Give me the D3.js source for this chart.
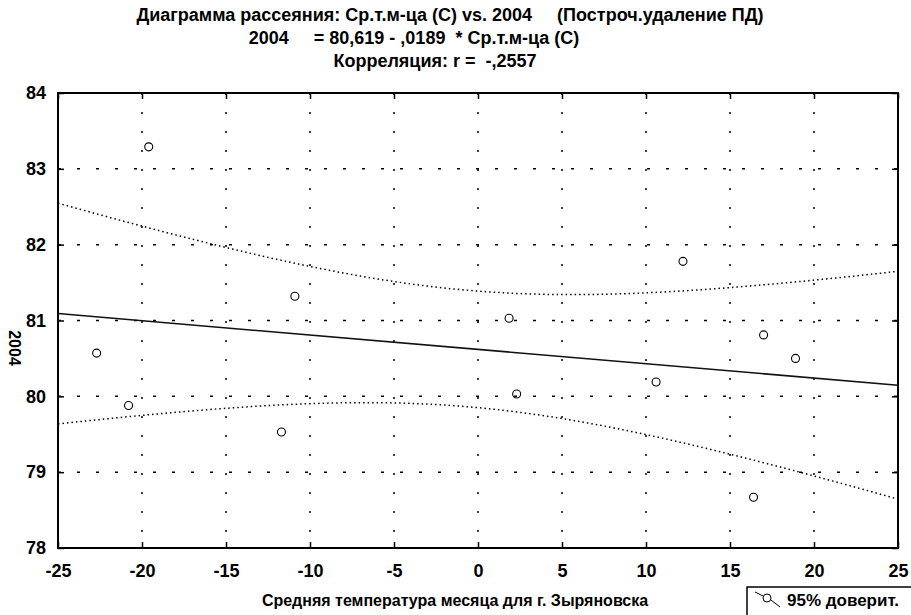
<!DOCTYPE html>
<html>
<head>
<meta charset="utf-8">
<script src="https://d3js.org/d3.v7.min.js"></script>
<style>
body { margin: 0; background: #fff; }
text { font-family: "Liberation Sans", Arial, sans-serif; fill: #000; }
</style>
</head>
<body>
<script>
// mean monthly temperature (x) vs 2004 value (y)
var temps  = [-19.6, -22.7, -20.8, -10.9, -11.7, 1.85, 2.3, 10.6, 12.2, 17.0, 18.9, 16.4];
var values = [83.29, 80.57, 79.88, 81.32, 79.53, 81.03, 80.03, 80.19, 81.78, 80.81, 80.50, 78.67];
var xTicks = [-25, -20, -15, -10, -5, 0, 5, 10, 15, 20, 25];
var yTicks = [78, 79, 80, 81, 82, 83, 84];
var intercept = 80.619, slope = -0.0189;
var tCrit = 2.228; // t(0.975, df = 10)

var titleLines = [
	"Диаграмма рассеяния: Ср.т.м-ца (С) vs. 2004     (Построч.удаление ПД)",
	"2004     = 80,619 - ,0189  * Ср.т.м-ца (С)",
	"Корреляция: r =  -,2557"
];

var width = 911, height = 615;
var pL = 58, pT = 93, pR = 898, pB = 548;

var svg = d3.select("body").append("svg")
	.attr("width", width)
	.attr("height", height);

var x = d3.scaleLinear().domain([-25, 25]).range([pL, pR]);
var y = d3.scaleLinear().domain([78, 84]).range([pB, pT]);
var plain = function(d) { return String(d); };

// title (lines are not quite centred in the original)
var titleX = [450, 414, 435];
svg.append("g").selectAll("text")
	.data(titleLines)
	.enter()
	.append("text")
		.attr("x", function(d, i) { return titleX[i]; })
		.attr("y", function(d, i) { return 21 + i * 23; })
		.attr("text-anchor", "middle")
		.attr("font-size", 18)
		.attr("font-weight", "bold")
		.style("white-space", "pre")
		.text(function(d) { return d; });

// grid
svg.append("g").selectAll("line")
	.data(xTicks.slice(1, -1))
	.enter()
	.append("line")
		.attr("x1", function(d) { return x(d); })
		.attr("x2", function(d) { return x(d); })
		.attr("y1", pT).attr("y2", pB)
		.attr("stroke", "#000")
		.attr("stroke-width", 1.5)
		.attr("stroke-dasharray", "2,17");
svg.append("g").selectAll("line")
	.data(yTicks.slice(1, -1))
	.enter()
	.append("line")
		.attr("x1", pL).attr("x2", pR)
		.attr("y1", function(d) { return y(d); })
		.attr("y2", function(d) { return y(d); })
		.attr("stroke", "#000")
		.attr("stroke-width", 1.5)
		.attr("stroke-dasharray", "3,16");

// confidence band from the data and the stated fit
var n = temps.length;
var xbar = d3.mean(temps);
var sxx = d3.sum(temps, function(d) { return (d - xbar) * (d - xbar); });
var sse = d3.sum(temps, function(d, i) {
	var r = values[i] - (intercept + slope * d);
	return r * r;
});
var s = Math.sqrt(sse / (n - 2));
function half(t) { return tCrit * s * Math.sqrt(1 / n + (t - xbar) * (t - xbar) / sxx); }
var xs = d3.range(-25, 25.01, 0.5);

var line = d3.line()
	.x(function(d) { return x(d[0]); })
	.y(function(d) { return y(d[1]); });

[1, -1].forEach(function(sign) {
	svg.append("path")
		.datum(xs.map(function(t) { return [t, intercept + slope * t + sign * half(t)]; }))
		.attr("d", line)
		.attr("fill", "none")
		.attr("stroke", "#000")
		.attr("stroke-width", 1.5)
		.attr("stroke-dasharray", "1.5,3");
});

// regression line
svg.append("path")
	.datum([[-25, intercept + slope * -25], [25, intercept + slope * 25]])
	.attr("d", line)
	.attr("fill", "none")
	.attr("stroke", "#111")
	.attr("stroke-width", 1.6);

// points
svg.append("g").selectAll("circle")
	.data(temps)
	.enter()
	.append("circle")
		.attr("cx", function(d) { return x(d); })
		.attr("cy", function(d, i) { return y(values[i]); })
		.attr("r", 4)
		.attr("fill", "none")
		.attr("stroke", "#000")
		.attr("stroke-width", 1.1);

// axes with inner ticks on all sides
svg.append("g")
	.attr("transform", "translate(0," + pB + ")")
	.call(d3.axisBottom(x).tickValues(xTicks).tickFormat(plain).tickSizeInner(-6).tickSizeOuter(0).tickPadding(16))
	.call(function(g) {
		g.select(".domain").remove();
		g.selectAll("line").attr("stroke-width", 1.5);
		g.selectAll("text").attr("font-size", 18).attr("font-weight", "bold").attr("font-family", "Liberation Sans, Arial, sans-serif");
	});
svg.append("g")
	.attr("transform", "translate(0," + pT + ")")
	.call(d3.axisTop(x).tickValues(xTicks).tickSizeInner(-6).tickSizeOuter(0).tickFormat(""))
	.call(function(g) { g.select(".domain").remove(); g.selectAll("line").attr("stroke-width", 1.5); });
svg.append("g")
	.attr("transform", "translate(" + pL + ",0)")
	.call(d3.axisLeft(y).tickValues(yTicks).tickFormat(plain).tickSizeInner(-6).tickSizeOuter(0).tickPadding(12))
	.call(function(g) {
		g.select(".domain").remove();
		g.selectAll("line").attr("stroke-width", 1.5);
		g.selectAll("text").attr("font-size", 18).attr("font-weight", "bold").attr("font-family", "Liberation Sans, Arial, sans-serif");
	});
svg.append("g")
	.attr("transform", "translate(" + pR + ",0)")
	.call(d3.axisRight(y).tickValues(yTicks).tickSizeInner(-6).tickSizeOuter(0).tickFormat(""))
	.call(function(g) { g.select(".domain").remove(); g.selectAll("line").attr("stroke-width", 1.5); });

// frame
svg.append("rect")
	.attr("x", pL).attr("y", pT)
	.attr("width", pR - pL).attr("height", pB - pT)
	.attr("fill", "none")
	.attr("stroke", "#000")
	.attr("stroke-width", 2);

// axis titles
svg.append("text")
	.attr("x", 455).attr("y", 606)
	.attr("text-anchor", "middle")
	.attr("font-size", 16)
	.attr("font-weight", "bold")
	.text("Средняя температура месяца для г. Зыряновска");
svg.append("text")
	.attr("transform", "translate(9,348) rotate(90)")
	.attr("text-anchor", "middle")
	.attr("font-size", 16)
	.attr("font-weight", "bold")
	.text("2004");

// legend
var lg = svg.append("g").attr("transform", "translate(747,587)");
lg.append("rect")
	.attr("width", 170).attr("height", 40)
	.attr("fill", "#fff")
	.attr("stroke", "#000")
	.attr("stroke-width", 1.5);
lg.append("path")
	.attr("d", "M8,5 L16,9 M24,13 L33,20")
	.attr("fill", "none")
	.attr("stroke", "#000")
	.attr("stroke-width", 1);
lg.append("circle")
	.attr("cx", 20).attr("cy", 11).attr("r", 4)
	.attr("fill", "none")
	.attr("stroke", "#000");
lg.append("text")
	.attr("x", 40).attr("y", 19)
	.attr("font-size", 17)
	.attr("font-weight", "bold")
	.text("95% доверит.");
</script>
</body>
</html>
